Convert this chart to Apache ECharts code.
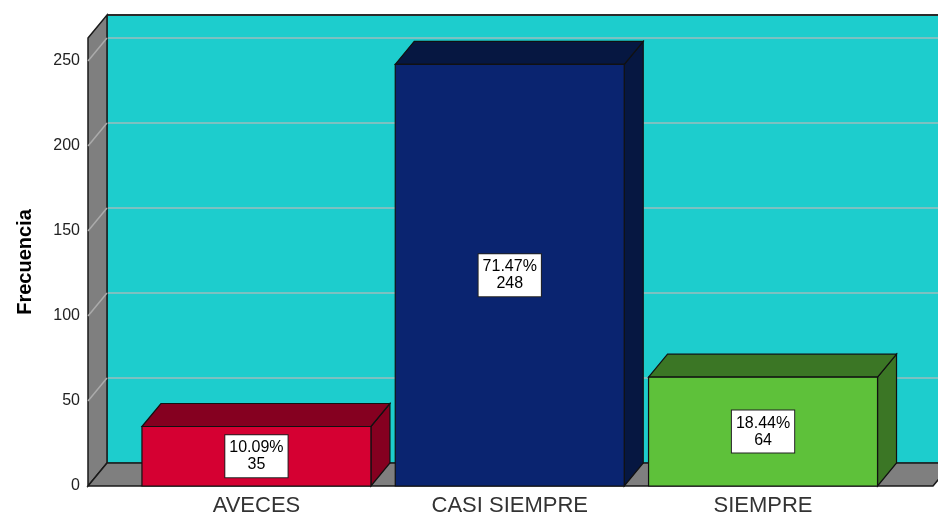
<!DOCTYPE html>
<html>
<head>
<meta charset="utf-8">
<script src="https://cdn.jsdelivr.net/npm/echarts@6/dist/echarts.min.js"></script>
<style>
html,body{margin:0;padding:0;background:#fff;}
#chart{width:938px;height:519px;}
</style>
</head>
<body>
<div id="chart"></div>
<script>
const categories = ['AVECES', 'CASI SIEMPRE', 'SIEMPRE'];
const counts = [35, 248, 64];
const percents = ['10.09%', '71.47%', '18.44%'];
const yTicks = [0, 50, 100, 150, 200, 250];

const frontColors = ['#D50032', '#0A2470', '#5EC13A'];
const shadeColors = ['#850020', '#061741', '#3B7625'];
const DX = 19, DY = -23;
const XMIN = -0.665, XMAX = 2.671, YMAX = 263.5;

const chart = echarts.init(document.getElementById('chart'), null, {renderer: 'canvas'});

function renderFrame(params, api) {
  const cs = params.coordSys;
  const left = cs.x, right = cs.x + cs.width, top = cs.y, bottom = cs.y + cs.height;
  const children = [];
  children.push({type: 'rect', shape: {x: left + DX, y: top + DY, width: cs.width, height: cs.height},
    style: {fill: '#1DCDCD', stroke: '#222', lineWidth: 1}});
  children.push({type: 'line', shape: {x1: left + DX, y1: top + DY, x2: right + DX, y2: top + DY},
    style: {stroke: '#2a2a2a', lineWidth: 2}});
  yTicks.forEach(function (v) {
    if (v === 0) return;
    const y = api.coord([XMIN, v])[1];
    children.push({type: 'line', shape: {x1: left + DX, y1: y + DY, x2: right + DX, y2: y + DY},
      style: {stroke: '#9DBDBD', lineWidth: 1.5}});
  });
  children.push({type: 'polygon', shape: {points: [[left, top], [left + DX, top + DY], [left + DX, bottom + DY], [left, bottom]]},
    style: {fill: '#7F7F7F', stroke: '#1a1a1a', lineWidth: 1.5}});
  yTicks.forEach(function (v) {
    if (v === 0) return;
    const y = api.coord([XMIN, v])[1];
    children.push({type: 'line', shape: {x1: left, y1: y, x2: left + DX, y2: y + DY},
      style: {stroke: '#ABABAB', lineWidth: 1.5}});
  });
  children.push({type: 'polygon', shape: {points: [[left, bottom], [left + DX, bottom + DY], [right + DX, bottom + DY], [right, bottom]]},
    style: {fill: '#7F7F7F', stroke: '#1a1a1a', lineWidth: 1.5}});
  return {type: 'group', children: children};
}

function renderBar(params, api) {
  const i = api.value(0), v = api.value(1);
  const halfW = api.size([1, 0])[0] * 0.452;
  const c0 = api.coord([i, 0]);
  const c1 = api.coord([i, v]);
  const x0 = c0[0] - halfW, x1 = c0[0] + halfW, yb = c0[1], yt = c1[1];
  const idx = params.dataIndex;
  const stroke = {stroke: '#111', lineWidth: 1.2};
  return {type: 'group', children: [
    {type: 'polygon', shape: {points: [[x1, yt], [x1 + DX, yt + DY], [x1 + DX, yb + DY], [x1, yb]]},
      style: Object.assign({fill: shadeColors[idx]}, stroke)},
    {type: 'polygon', shape: {points: [[x0, yt], [x0 + DX, yt + DY], [x1 + DX, yt + DY], [x1, yt]]},
      style: Object.assign({fill: shadeColors[idx]}, stroke)},
    {type: 'rect', shape: {x: x0, y: yt, width: x1 - x0, height: yb - yt},
      style: Object.assign({fill: frontColors[idx]}, stroke)},
    {type: 'text', x: c0[0], y: (yt + yb) / 2,
      style: {text: percents[idx] + '\n' + counts[idx], align: 'center', verticalAlign: 'middle',
        font: '16px "Liberation Sans", Arial, sans-serif', lineHeight: 17, fill: '#000',
        backgroundColor: '#fff', borderColor: '#222', borderWidth: 1, padding: [4, 4, 4, 4]}}
  ]};
}

chart.setOption({
  animation: false,
  textStyle: {fontFamily: '"Liberation Sans", Arial, sans-serif'},
  grid: {left: 88, right: 5, top: 38, bottom: 33, containLabel: false, outerBoundsMode: 'none'},
  xAxis: {
    type: 'value', min: XMIN, max: XMAX,
    axisLine: {show: false}, axisTick: {show: false}, splitLine: {show: false},
    axisLabel: {customValues: [0, 1, 2], formatter: function (v) { return categories[Math.round(v)]; },
      fontSize: 22, color: '#333', margin: 9}
  },
  yAxis: {
    type: 'value', min: 0, max: YMAX, interval: 50,
    name: 'Frecuencia', nameLocation: 'middle', nameGap: 53,
    nameTextStyle: {fontSize: 20, fontWeight: 'bold', color: '#000'},
    axisLine: {show: false}, axisTick: {show: false}, splitLine: {show: false},
    axisLabel: {fontSize: 16, color: '#222', margin: 8, padding: [8, 0, 0, 0], showMaxLabel: false,
      formatter: function (v) { return yTicks.indexOf(v) >= 0 ? String(v) : ''; }}
  },
  series: [
    {type: 'custom', renderItem: renderFrame, data: [[0, 0]], silent: true, z: 1, clip: false},
    {type: 'custom', renderItem: renderBar, data: counts.map(function (v, i) { return [i, v]; }),
      encode: {x: 0, y: 1}, z: 2, clip: false}
  ]
});
</script>
</body>
</html>
